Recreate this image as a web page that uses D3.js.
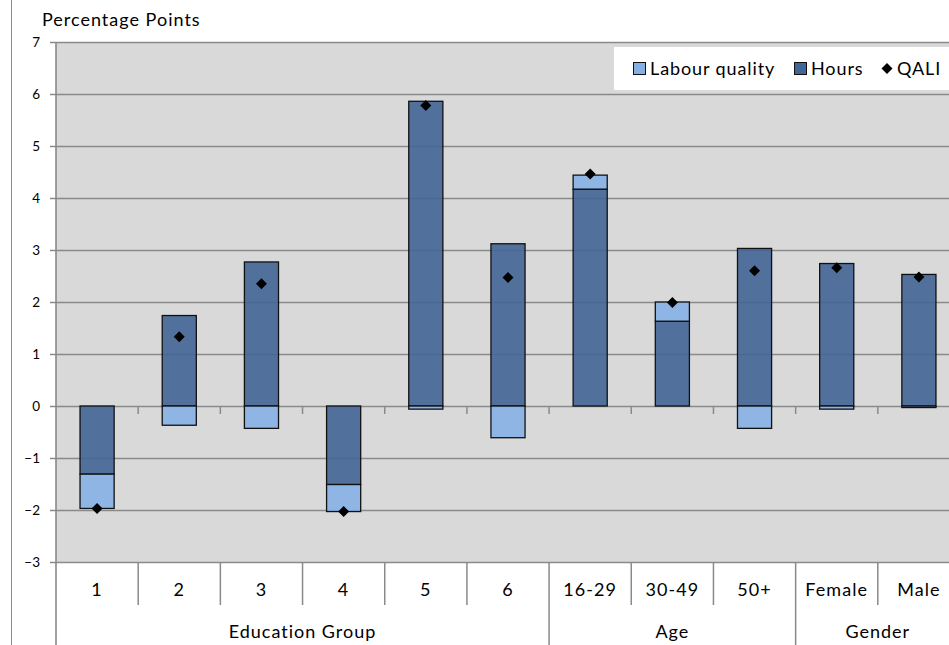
<!DOCTYPE html>
<html>
<head>
<meta charset="utf-8">
<script src="https://cdn.jsdelivr.net/npm/d3@7"></script>
<style>
  html, body { margin: 0; padding: 0; background: #fff; }
  svg text { font-family: Lato, "Liberation Sans", sans-serif; fill: #000; }
</style>
</head>
<body>
<svg id="chart" width="949" height="645"></svg>
<script>
// ---- data ----
const categories = ["1", "2", "3", "4", "5", "6", "16-29", "30-49", "50+", "Female", "Male"];
const groups = ["Education Group", "Education Group", "Education Group", "Education Group", "Education Group", "Education Group", "Age", "Age", "Age", "Gender", "Gender"];
const hours = [-1.31, 1.74, 2.77, -1.51, 5.86, 3.12, 4.17, 1.63, 3.03, 2.74, 2.53];
const labourQuality = [-0.66, -0.37, -0.43, -0.52, -0.06, -0.61, 0.27, 0.37, -0.43, -0.06, -0.03];
const qali = [-1.97, 1.33, 2.35, -2.03, 5.78, 2.47, 4.46, 1.99, 2.60, 2.66, 2.48];
const yTicks = [-3, -2, -1, 0, 1, 2, 3, 4, 5, 6, 7];
const seriesNames = ["Labour quality", "Hours", "QALI"];

const colHours = "rgb(65,101,149)";
const colLQ = "rgb(134,176,228)";

const svg = d3.select("#chart");
const plot = { left: 56, right: 960, top: 42, bottom: 562 };

const x = d3.scaleBand().domain(categories).range([plot.left, plot.right]).paddingInner(0).paddingOuter(0);
const y = d3.scaleLinear().domain([-3, 7]).range([plot.bottom, plot.top]);
const barW = x.bandwidth() * 0.415;

const diamond = r => `M0,${-r}L${r},0L0,${r}L${-r},0Z`;

// outer chart border (left)
svg.append("line").attr("x1", 11.5).attr("x2", 11.5).attr("y1", 0).attr("y2", 645)
  .attr("stroke", "#8c8c8c").attr("stroke-width", 1);

// plot background
svg.append("rect").attr("x", plot.left).attr("y", plot.top)
  .attr("width", plot.right - plot.left).attr("height", plot.bottom - plot.top)
  .attr("fill", "#d9d9d9");

// gridlines
svg.append("g").selectAll("line").data(yTicks).join("line")
  .attr("x1", plot.left).attr("x2", plot.right)
  .attr("y1", d => Math.round(y(d)) + 0.5).attr("y2", d => Math.round(y(d)) + 0.5)
  .attr("stroke", "#8a8a8a").attr("stroke-width", 1.6);

// y axis
const yAxis = d3.axisLeft(y).tickValues(yTicks).tickSize(6).tickPadding(10).tickFormat(d3.format("d"));
const ya = svg.append("g").attr("transform", `translate(${plot.left},0)`).call(yAxis);
ya.select(".domain").remove();
ya.selectAll(".tick line").attr("stroke", "#8a8a8a").attr("stroke-width", 1.5);
ya.selectAll(".tick text").attr("font-size", 13.5).style("font-family", "Lato, 'Liberation Sans', sans-serif");
svg.append("line").attr("x1", plot.left).attr("x2", plot.left).attr("y1", plot.top).attr("y2", 645)
  .attr("stroke", "#8a8a8a").attr("stroke-width", 1.6);

// minor ticks on zero line at category boundaries
const bounds = categories.slice(1).map(c => x(c));
svg.append("g").selectAll("line").data(bounds).join("line")
  .attr("x1", d => d).attr("x2", d => d)
  .attr("y1", y(0)).attr("y2", y(0) + 8)
  .attr("stroke", "#8a8a8a").attr("stroke-width", 1.5);

// bars: hours from 0, labour quality stacked at end of hours in its direction
const rows = categories.map((c, i) => ({ c, h: hours[i], lq: labourQuality[i], q: qali[i] }));
const barG = svg.append("g");
rows.forEach(r => {
  const cx = x(r.c) + x.bandwidth() / 2;
  barG.append("rect")
    .attr("x", cx - barW / 2).attr("width", barW)
    .attr("y", y(Math.max(0, r.h))).attr("height", Math.abs(y(r.h) - y(0)))
    .attr("fill", colHours).attr("fill-opacity", 0.9)
    .attr("stroke", "#111").attr("stroke-width", 1.3);
  const base = ((r.lq >= 0) === (r.h >= 0)) ? r.h : 0;
  const end = base + r.lq;
  barG.append("rect")
    .attr("x", cx - barW / 2).attr("width", barW)
    .attr("y", y(Math.max(base, end))).attr("height", Math.abs(y(end) - y(base)))
    .attr("fill", colLQ).attr("fill-opacity", 0.9)
    .attr("stroke", "#111").attr("stroke-width", 1.3);
});

// QALI diamonds
svg.append("g").selectAll("path").data(rows).join("path")
  .attr("transform", d => `translate(${x(d.c) + x.bandwidth() / 2},${y(d.q)})`)
  .attr("d", diamond(5.5))
  .attr("fill", "#000");

// category separators below plot
const groupBounds = [x("16-29"), x("Female")];
svg.append("g").selectAll("line").data(bounds).join("line")
  .attr("x1", d => d).attr("x2", d => d)
  .attr("y1", plot.bottom).attr("y2", d => groupBounds.includes(d) ? 645 : 605)
  .attr("stroke", "#8a8a8a").attr("stroke-width", 1.5);

// category labels
svg.append("g").selectAll("text").data(categories).join("text")
  .attr("x", d => x(d) + x.bandwidth() / 2).attr("y", 596)
  .attr("text-anchor", "middle").attr("font-size", 18).attr("letter-spacing", 1.1)
  .text(d => d);

// group labels
const groupNames = Array.from(new Set(groups));
const groupSpans = groupNames.map(g => {
  const idx = groups.map((gg, i) => gg === g ? i : -1).filter(i => i >= 0);
  return { g, x0: x(categories[idx[0]]), x1: x(categories[idx[idx.length - 1]]) + x.bandwidth() };
});
svg.append("g").selectAll("text").data(groupSpans).join("text")
  .attr("x", d => (d.x0 + d.x1) / 2).attr("y", 638)
  .attr("text-anchor", "middle").attr("font-size", 18).attr("letter-spacing", 1)
  .text(d => d.g);

// y title
svg.append("text").attr("x", 42).attr("y", 26).attr("font-size", 18).attr("letter-spacing", 1)
  .text("Percentage Points");

// legend
const lg = svg.append("g");
lg.append("rect").attr("x", 614).attr("y", 47).attr("width", 360).attr("height", 43).attr("fill", "#fff");
const items = [
  { name: seriesNames[0], type: "rect", color: colLQ, sx: 633, tx: 650 },
  { name: seriesNames[1], type: "rect", color: colHours, sx: 794, tx: 811 },
  { name: seriesNames[2], type: "diamond", color: "#000", sx: 887, tx: 897 }
];
items.forEach(it => {
  if (it.type === "rect") {
    lg.append("rect").attr("x", it.sx + 0.5).attr("y", 62.5).attr("width", 12).attr("height", 12)
      .attr("fill", it.color).attr("stroke", "#111").attr("stroke-width", 1);
  } else {
    lg.append("path").attr("transform", `translate(${it.sx},${68.5})`)
      .attr("d", diamond(5.5)).attr("fill", "#000");
  }
  lg.append("text").attr("x", it.tx).attr("y", 75).attr("font-size", 18).attr("letter-spacing", 0.9)
    .text(it.name);
});
</script>
</body>
</html>
